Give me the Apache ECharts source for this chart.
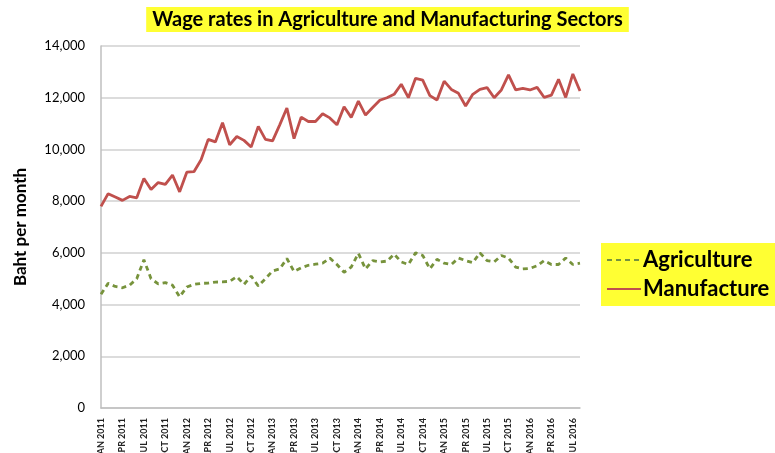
<!DOCTYPE html>
<html>
<head>
<meta charset="utf-8">
<script src="https://cdn.jsdelivr.net/npm/echarts@6/dist/echarts.min.js"></script>
<style>
  html, body { margin: 0; padding: 0; background: #fff; }
  #chart { width: 775px; height: 453px; }
</style>
</head>
<body>
<div id="chart"></div>
<script>
// 月份 (Jan 2011 - Aug 2016)
const monthNames = ['JAN', 'FEB', 'MAR', 'APR', 'MAY', 'JUN', 'JUL', 'AUG', 'SEP', 'OCT', 'NOV', 'DEC']
const years = [2011, 2012, 2013, 2014, 2015, 2016]
const lastMonthCount = 8 // 2016 ends at AUG

const categories = []
years.forEach((y, i) => {
  const n = i === years.length - 1 ? lastMonthCount : 12
  for (let m = 0; m < n; m++) categories.push(monthNames[m] + ' ' + y)
})

// 农业工资 (baht / month)
const agriculture = [
  4400, 4820, 4700, 4650, 4750, 5000, 5730, 5000, 4800, 4850, 4750, 4300,
  4680, 4780, 4820, 4830, 4870, 4880, 4900, 5080, 4780, 5100, 4720, 5000,
  5300, 5380, 5780, 5280, 5420, 5520, 5560, 5600, 5800, 5550, 5250, 5450,
  5980, 5380, 5700, 5650, 5680, 5950, 5650, 5550, 6000, 5900, 5380, 5750,
  5600, 5550, 5800, 5700, 5620, 6000, 5700, 5650, 5900, 5800, 5450, 5380,
  5400, 5500, 5700, 5550, 5550, 5800, 5550, 5600,
]

// 制造业工资
const manufacture = [
  7800, 8290, 8160, 8030, 8180, 8130, 8880, 8450, 8720, 8650, 9010, 8360,
  9120, 9140, 9600, 10390, 10290, 11030, 10180, 10500, 10350, 10090, 10890, 10390,
  10330, 10950, 11600, 10420, 11250, 11080, 11080, 11380, 11220, 10950, 11650, 11240,
  11870, 11330, 11620, 11900, 12000, 12130, 12520, 12000, 12750, 12680, 12080, 11910,
  12640, 12320, 12170, 11680, 12130, 12320, 12390, 12000, 12300, 12880, 12300, 12360,
  12300, 12400, 12010, 12100, 12710, 12010, 12920, 12260,
]

const fontFamily = 'Lato, "Open Sans", sans-serif'

const chartInstance = echarts.init(document.getElementById('chart'))
const option = {
  backgroundColor: '#fff',
  animation: false,
  title: {
    text: 'Wage rates in Agriculture and Manufacturing Sectors',
    left: 'center',
    top: 7,
    padding: [3, 6, 2, 6],
    backgroundColor: '#ffff33',
    textStyle: {
      fontFamily,
      fontSize: 20,
      fontWeight: 'bold',
      color: '#000',
    },
  },
  legend: {
    orient: 'vertical',
    left: 601,
    top: 243,
    padding: [6, 10, 6, 5],
    itemGap: 7,
    itemWidth: 34,
    itemHeight: 21,
    backgroundColor: '#ffff33',
    data: ['Agriculture', 'Manufacture'],
    itemStyle: { opacity: 0 },
    textStyle: {
      fontFamily,
      fontSize: 22,
      fontWeight: 'bold',
      color: '#000',
      padding: [0, 0, 0, -3],
    },
  },
  grid: {
    left: 101,
    right: 195,
    top: 46,
    bottom: 45,
    containLabel: false,
    outerBoundsMode: 'none',
  },
  xAxis: {
    type: 'category',
    data: categories,
    boundaryGap: false,
    axisLine: { lineStyle: { color: '#bfbfbf', width: 1.5 } },
    axisTick: { show: false },
    axisLabel: {
      interval: 2,
      rotate: 90,
      margin: 10,
      fontFamily,
      fontSize: 9,
      fontWeight: 'bold',
      color: '#222',
    },
  },
  yAxis: {
    type: 'value',
    min: 0,
    max: 14000,
    interval: 2000,
    name: 'Baht per month',
    nameLocation: 'middle',
    nameGap: 72,
    nameTextStyle: {
      fontFamily,
      fontSize: 17,
      fontWeight: 'bold',
      color: '#000',
    },
    axisLine: { show: true, lineStyle: { color: '#bfbfbf', width: 1.5 } },
    axisTick: { show: false },
    splitLine: { lineStyle: { color: '#d0d0d0', width: 1.5 } },
    axisLabel: {
      margin: 16,
      fontFamily,
      fontSize: 13,
      color: '#000',
      formatter: (v) => v.toLocaleString('en-US'),
    },
  },
  series: [
    {
      name: 'Agriculture',
      type: 'line',
      data: agriculture,
      symbol: 'none',
      color: '#77933c',
      lineStyle: { color: '#77933c', width: 2.8, type: [5, 4] },
    },
    {
      name: 'Manufacture',
      type: 'line',
      data: manufacture,
      symbol: 'none',
      color: '#c0504d',
      lineStyle: { color: '#c0504d', width: 2.8 },
    },
  ],
}
chartInstance.setOption(option)
</script>
</body>
</html>
